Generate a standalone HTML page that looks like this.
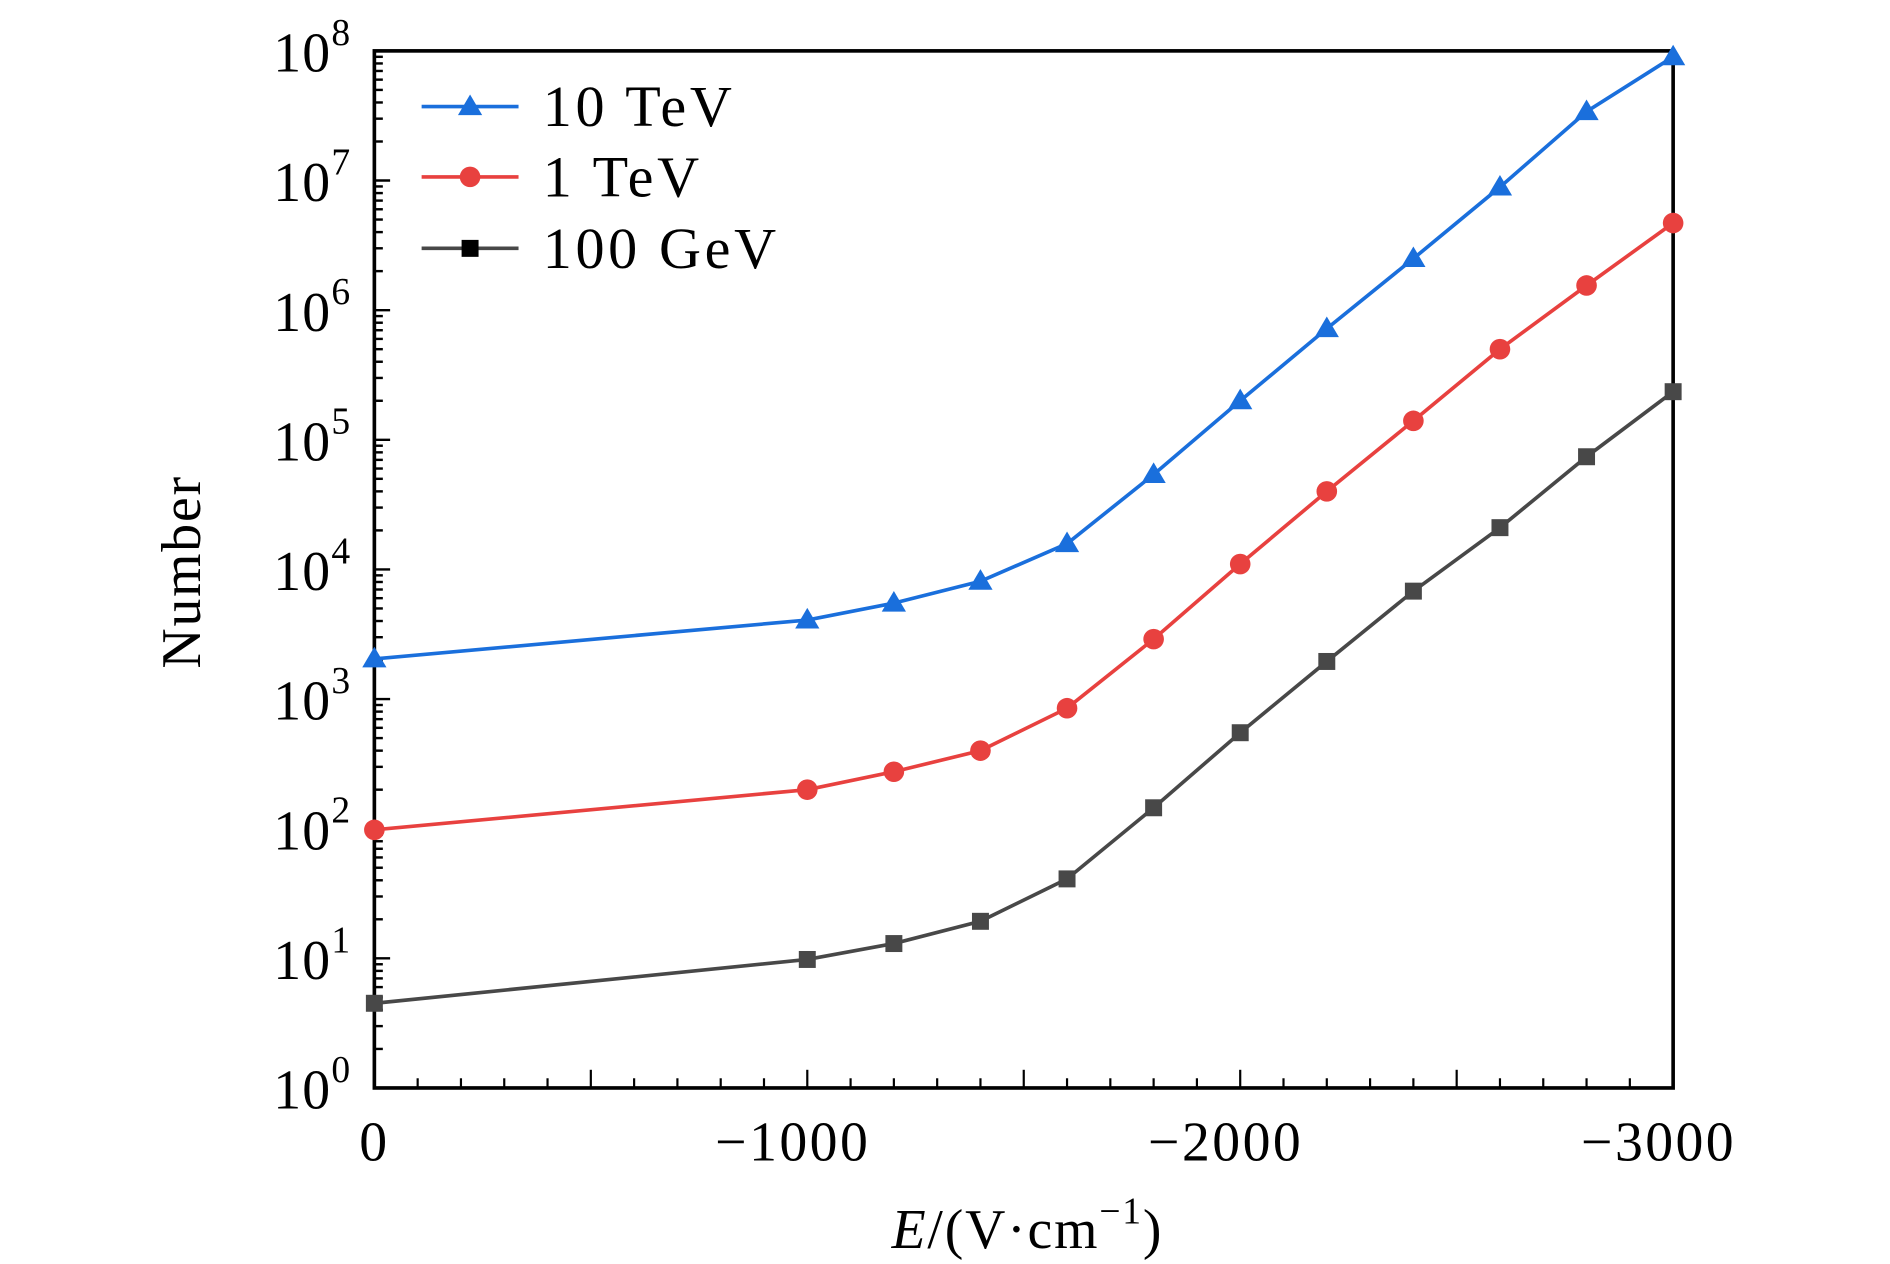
<!DOCTYPE html>
<html><head><meta charset="utf-8"><style>
html,body{margin:0;padding:0;background:#fff;}
svg{display:block;font-family:"Liberation Serif",serif;}
</style></head><body>
<svg id="chart" width="1890" height="1264" viewBox="0 0 1560 1043.3" xmlns="http://www.w3.org/2000/svg">
<g id="plot"></g>
</svg>
<script>
const xVals = [0,-1000,-1200,-1400,-1600,-1800,-2000,-2200,-2400,-2600,-2800,-3000];
const tev10 = [2040,4070,5500,8100,15800,54000,2.0e5,7.2e5,2.5e6,8.9e6,3.4e7,9.0e7];
const tev1 = [98,200,275,400,850,2900,1.1e4,4.0e4,1.4e5,5.0e5,1.55e6,4.7e6];
const gev100 = [4.5,9.8,13,19.3,41,145,550,1950,6800,2.1e4,7.4e4,2.35e5];
const xTicks = [0,-1000,-2000,-3000];
const xTickLabels = ["0","\u22121000","\u22122000","\u22123000"];
const yExps = [0,1,2,3,4,5,6,7,8];

const NS="http://www.w3.org/2000/svg";
const g=document.getElementById('plot');
const L=309,R=1381,T=42,B=898;
function sx(v){return L+(v-0)/(-3000)*(R-L);}
function sy(v){return B-Math.log10(v)/8*(B-T);}
function mk(tag,attrs,parent){const e=document.createElementNS(NS,tag);for(const k in attrs)e.setAttribute(k,attrs[k]);(parent||g).appendChild(e);return e;}

for(let d=0;d<8;d++){
  for(let m=1;m<10;m++){
    const y=sy(m*Math.pow(10,d));
    const t=mk('line',{x1:L,x2:L+(m===1?13:7),y1:y,y2:y,stroke:'#000','stroke-width':2});
    
    
  }
}
for(const e of yExps){
  const y=sy(Math.pow(10,e));
  const t=mk('text',{x:290,y:y+17,'text-anchor':'end','font-size':46,'letter-spacing':1,fill:'#000'});
  
  
  t.textContent='10';
  const s=mk('tspan',{dy:-22,'font-size':31},t);
  s.textContent=String(e);
}
for(let v=0;v>=-3000;v-=100){
  const x=sx(v);const major=(v%500===0);
  const t=mk('line',{x1:x,x2:x,y1:B,y2:B-(major?15:8),stroke:'#000','stroke-width':1.8});
  
  
}
xTicks.forEach((v,i)=>{
  const t=mk('text',{x:sx(v)-(v===0?0:12),y:958,'text-anchor':'middle','font-size':46,'letter-spacing':2,fill:'#000'});
  
  
  t.textContent=xTickLabels[i];
});
const fr=mk('rect',{x:L,y:T,width:R-L,height:B-T,fill:'none',stroke:'#000','stroke-width':3});



const series=[
 {name:'10 TeV',data:tev10,color:'#1a6fdc',marker:'tri'},
 {name:'1 TeV',data:tev1,color:'#e8413f',marker:'circ'},
 {name:'100 GeV',data:gev100,color:'#484848',marker:'sq'}];
function marker(type,x,y,color,parent){
  let e;
  if(type==='tri')e=mk('polygon',{points:`${x},${y-10} ${x-10},${y+7} ${x+10},${y+7}`,fill:color},parent);
  else if(type==='circ')e=mk('circle',{cx:x,cy:y,r:8.5,fill:color},parent);
  else e=mk('rect',{x:x-7,y:y-7,width:14,height:14,fill:color},parent);
  return e;
}
series.forEach(s=>{
  const pts=s.data.map((v,i)=>sx(xVals[i])+','+sy(v)).join(' ');
  const ln=mk('polyline',{points:pts,fill:'none',stroke:s.color,'stroke-width':3});
  
  
  s.data.forEach((v,i)=>{
    const m=marker(s.marker,sx(xVals[i]),sy(v),s.color);
    
    
  });
});
const leg=[{y:88},{y:146},{y:205}];
series.forEach((s,i)=>{
  const y=leg[i].y;
  const l=mk('line',{x1:348,x2:428,y1:y,y2:y,stroke:s.color,'stroke-width':3});
  
  
  const m=marker(s.marker,388,y,s.marker==='sq'?'#000':s.color);
  
  
  const t=mk('text',{x:448,y:y+16,'font-size':48,'letter-spacing':3,fill:'#000'});
  
  
  t.textContent=s.name;
});
const yt=mk('text',{x:0,y:0,'font-size':46,'letter-spacing':1.5,'text-anchor':'middle',transform:'translate(165,472) rotate(-90)',fill:'#000'});


yt.textContent='Number';
const xt=mk('text',{x:848,y:1030,'font-size':46,'letter-spacing':1.5,'text-anchor':'middle',fill:'#000'});


const a=mk('tspan',{'font-style':'italic'},xt);a.textContent='E';
const b=mk('tspan',{},xt);b.textContent='/(V\u00B7cm';
const c=mk('tspan',{dy:-20,'font-size':31},xt);c.textContent='\u22121';
const d=mk('tspan',{dy:20},xt);d.textContent=')';
</script>
</body></html>
